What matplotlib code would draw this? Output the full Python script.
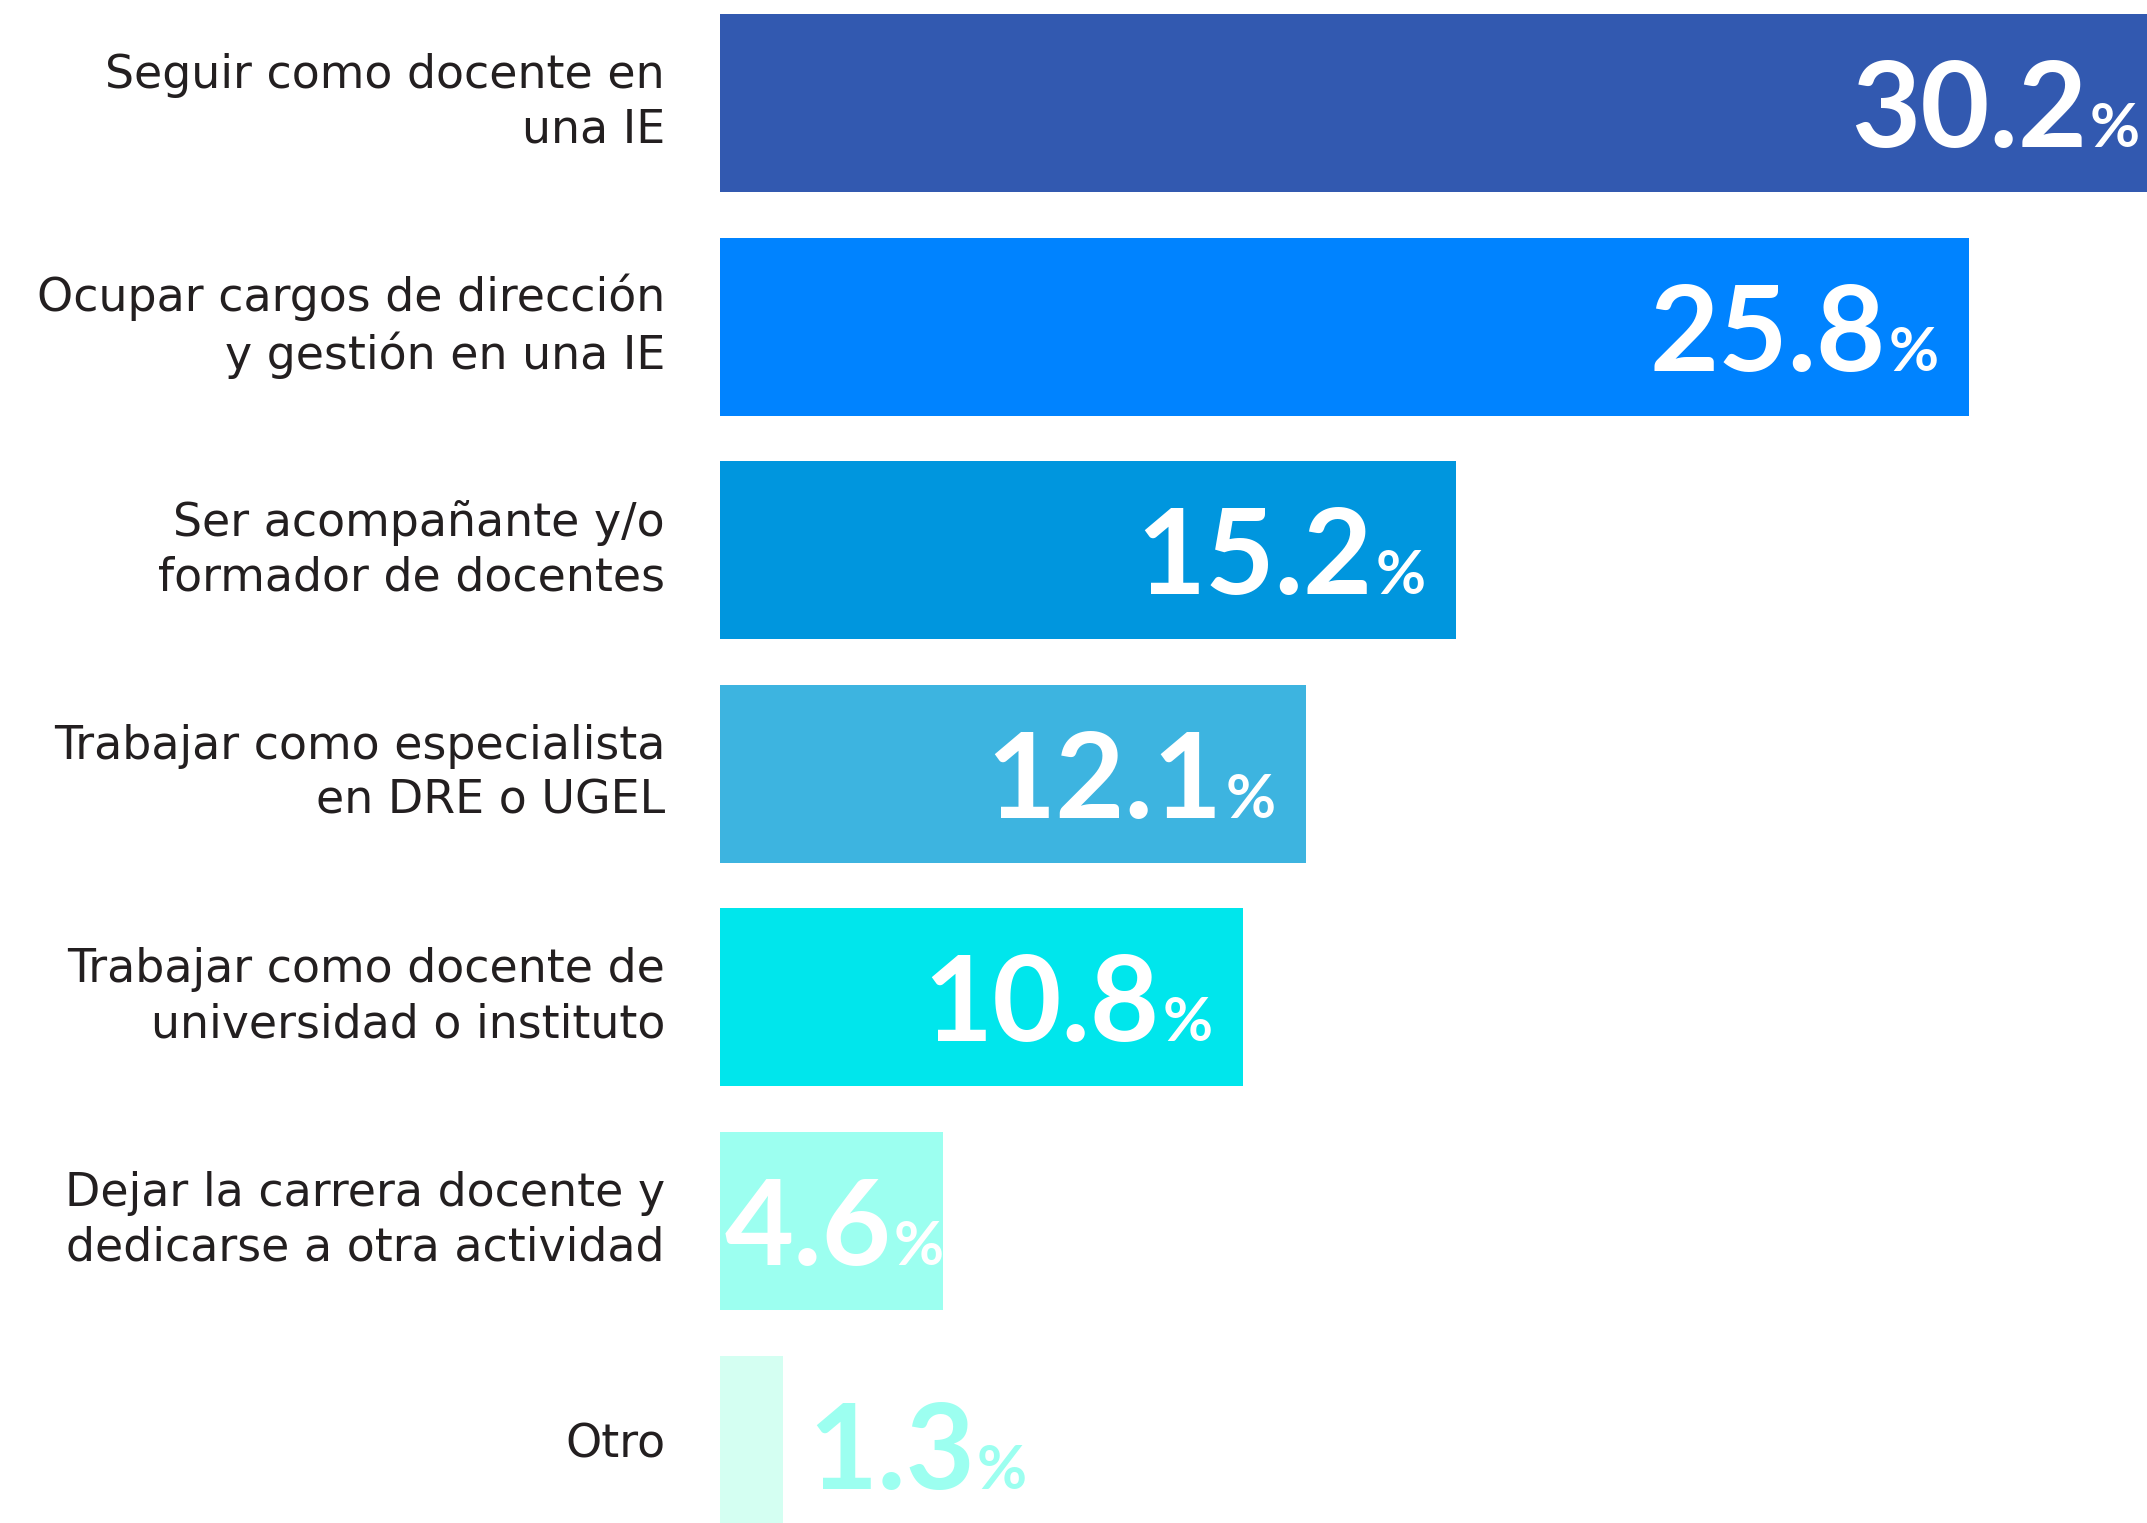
import matplotlib
matplotlib.use("Agg")
import matplotlib.pyplot as plt

categories = [
    "Seguir como docente en\nuna IE",
    "Ocupar cargos de dirección\ny gestión en una IE",
    "Ser acompañante y/o\nformador de docentes",
    "Trabajar como especialista\nen DRE o UGEL",
    "Trabajar como docente de\nuniversidad o instituto",
    "Dejar la carrera docente y\ndedicarse a otra actividad",
    "Otro",
]
values = [30.2, 25.8, 15.2, 12.1, 10.8, 4.6, 1.3]
value_labels = ["30.2", "25.8", "15.2", "12.1", "10.8", "4.6", "1.3"]
colors = ["#3259B0", "#0083FF", "#0096DE", "#3DB4E0", "#00E6EC", "#9CFFF0", "#D4FFF2"]

W, H = 2147, 1523
DPI = 100
fig = plt.figure(figsize=(W / DPI, H / DPI), dpi=DPI)
fig.patch.set_facecolor("white")

x0_px = 720
ax = fig.add_axes([x0_px / W, 0, 1 - x0_px / W, 1])
px_per_unit = 48.4
ax.set_xlim(0, (W - x0_px) / px_per_unit)
ax.set_ylim(len(values) - 1 + 0.351, -0.461)
ax.axis("off")

ypos = list(range(len(values)))
ax.barh(ypos, values, height=0.796, color=colors, edgecolor="none")

label_font = "DejaVu Sans"
for y, lab in zip(ypos, categories):
    ax.annotate(lab, xy=(0, y), xycoords=("axes fraction", "data"),
                xytext=(-55, 0), textcoords="offset pixels",
                ha="right", va="center", fontsize=33, family=label_font,
                color="#231F20", linespacing=1.28, annotation_clip=False)

fig.canvas.draw()
renderer = fig.canvas.get_renderer()

num_font = "Lato"
num_size = 86
pct_size = 44
for y, v, txt, c in zip(ypos, values, value_labels, colors):
    xd, yd = ax.transData.transform((v, y))
    x0d, _ = ax.transData.transform((0, y))
    base = yd - 44
    if v >= 6:
        right = min(xd - 30, W - 7)
        pct = fig.text(right / W, base / H, "%", ha="right", va="baseline",
                       fontsize=pct_size, family=num_font, weight="bold", color="white")
        bb = pct.get_window_extent(renderer)
        fig.text((bb.x0 - 3) / W, base / H, txt, ha="right", va="baseline",
                 fontsize=num_size, family=num_font, weight="bold", color="white")
    else:
        inside = v >= 3
        tcol = "white" if inside else "#9CFFF0"
        start = x0d + 5 if inside else xd + 25
        num = fig.text(start / W, base / H, txt, ha="left", va="baseline",
                       fontsize=num_size, family=num_font, weight="bold", color=tcol)
        bb = num.get_window_extent(renderer)
        fig.text((bb.x1 + 2) / W, base / H, "%", ha="left", va="baseline",
                 fontsize=pct_size, family=num_font, weight="bold", color=tcol)

fig.savefig("out.png", dpi=DPI, facecolor="white")
